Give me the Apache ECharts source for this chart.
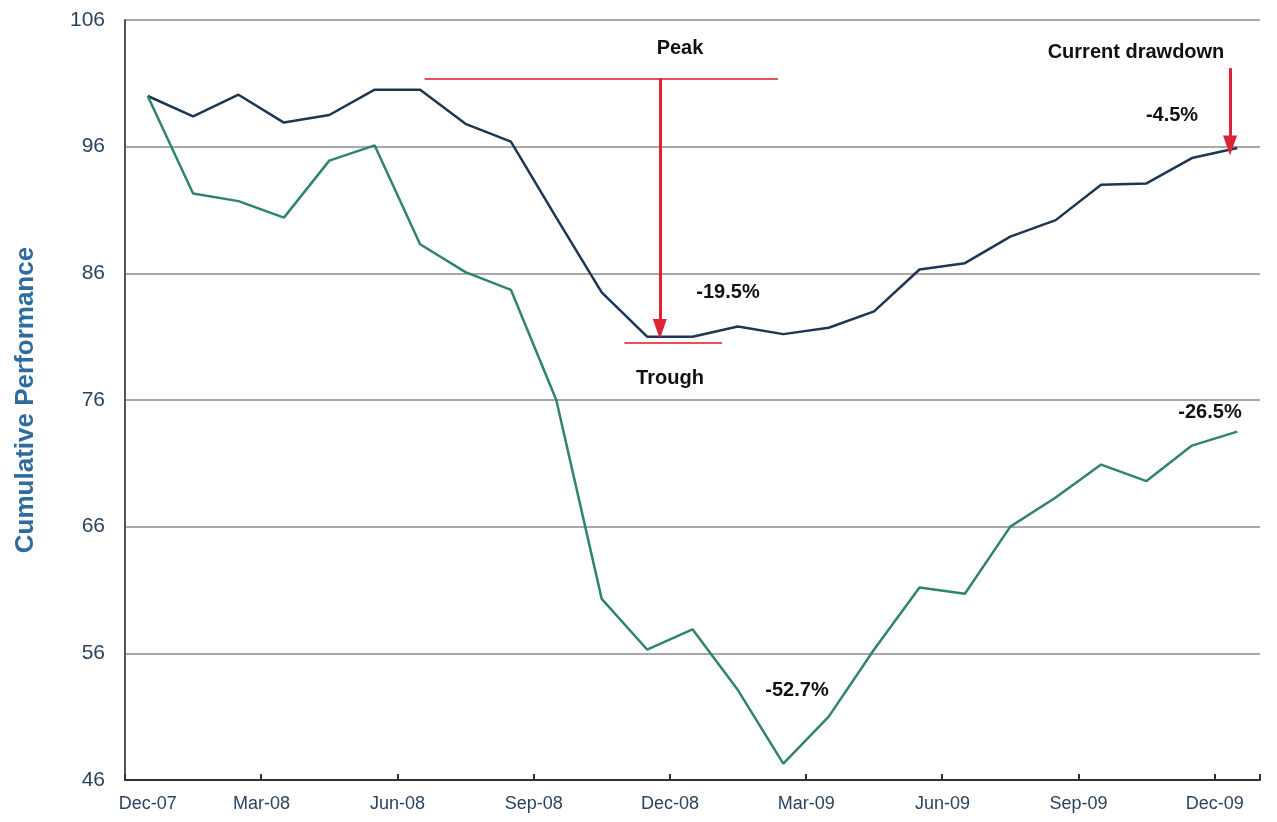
<!DOCTYPE html>
<html>
<head>
<meta charset="utf-8">
<script src="https://cdn.jsdelivr.net/npm/echarts@6/dist/echarts.min.js"></script>
<style>
html, body { margin: 0; padding: 0; background: #fff; }
#main { width: 1277px; height: 822px; }
</style>
</head>
<body>
<div id="main"></div>
<script>
// months, Dec-07 .. Dec-09
var months = ['Dec-07','Jan-08','Feb-08','Mar-08','Apr-08','May-08','Jun-08','Jul-08','Aug-08','Sep-08','Oct-08','Nov-08',
    'Dec-08','Jan-09','Feb-09','Mar-09','Apr-09','May-09','Jun-09','Jul-09','Aug-09','Sep-09','Oct-09','Nov-09','Dec-09'];
var fundValues = [100, 98.4, 100.1, 97.9, 98.5, 100.5, 100.5, 97.8, 96.4, 90.4, 84.5, 81.0,
    81.0, 81.8, 81.2, 81.7, 83.0, 86.3, 86.8, 88.9, 90.2, 93.0, 93.1, 95.1, 95.9];
var indexValues = [100, 92.3, 91.7, 90.4, 94.9, 96.1, 88.3, 86.1, 84.7, 76.0, 60.3, 56.3,
    57.9, 53.1, 47.3, 51.0, 56.3, 61.2, 60.7, 66.0, 68.3, 70.9, 69.6, 72.4, 73.5];
var yTicks = [46, 56, 66, 76, 86, 96, 106];

var myChart = echarts.init(document.getElementById('main'));
var red = '#dc2434';
var font = 'Liberation Sans';
var labelColor = '#2b4360';

function note(text, x, y) {
    return { type: 'text', x: x, y: y, style: { text: text, fontFamily: font, fontSize: 20, fontWeight: 'bold', fill: '#111', align: 'center', verticalAlign: 'middle' } };
}

var option = {
    backgroundColor: '#fff',
    animation: false,
    grid: { left: 125, right: 17, top: 20, bottom: 42 },
    xAxis: [{
        type: 'category',
        data: months,
        boundaryGap: true,
        axisLine: { onZero: false, lineStyle: { color: '#333', width: 2 } },
        axisTick: { show: true, interval: 2, length: 6, inside: true, lineStyle: { color: '#333', width: 2 } },
        axisLabel: {
            interval: 2,
            margin: 15,
            fontFamily: font,
            fontSize: 18,
            color: labelColor,
            formatter: function (v, i) { return i === 0 ? '{a|' + v + '}' : '{b|' + v + '}'; },
            rich: {
                a: { fontFamily: font, fontSize: 18, color: labelColor },
                b: { fontFamily: font, fontSize: 18, color: labelColor, padding: [0, 45, 0, 0] }
            }
        },
        splitLine: { show: false }
    }, {
        // hidden helper axis for the annotations
        type: 'value',
        min: -0.5,
        max: 24.5,
        show: false
    }],
    yAxis: {
        type: 'value',
        min: 46,
        max: 106,
        interval: 10,
        name: 'Cumulative Performance',
        nameLocation: 'middle',
        nameGap: 86,
        nameTextStyle: { fontFamily: font, fontSize: 26, fontWeight: 'bold', color: '#2f6c9e' },
        axisLine: { show: true, onZero: false, lineStyle: { color: '#555', width: 2 } },
        axisTick: { show: false },
        axisLabel: {
            margin: 20,
            fontFamily: font,
            fontSize: 21,
            color: labelColor,
            formatter: function (v) { return yTicks.indexOf(v) >= 0 ? v : ''; }
        },
        splitLine: { lineStyle: { color: '#a8a8a8', width: 2 } }
    },
    series: [{
        name: 'Fund',
        type: 'line',
        data: fundValues,
        symbol: 'none',
        lineStyle: { color: '#1d3752', width: 2.5 },
        z: 3
    }, {
        name: 'Index',
        type: 'line',
        data: indexValues,
        symbol: 'none',
        lineStyle: { color: '#2f8372', width: 2.5 },
        z: 3
    }, {
        name: 'annot',
        type: 'line',
        xAxisIndex: 1,
        data: [],
        markLine: {
            silent: true,
            symbol: ['none', 'none'],
            label: { show: false },
            data: [
                [{ coord: [6.1, 101.4], lineStyle: { color: '#e8505a', width: 2, type: 'solid' } }, { coord: [13.88, 101.4] }],
                [{ coord: [10.5, 80.5], lineStyle: { color: '#e8505a', width: 2, type: 'solid' } }, { coord: [12.65, 80.5] }],
                [{ coord: [11.28, 101.4], symbol: 'none', lineStyle: { color: red, width: 3, type: 'solid' } },
                 { coord: [11.28, 81.6], symbol: 'triangle', symbolSize: [14, 20], symbolRotate: 180 }],
                [{ coord: [23.84, 102.2], symbol: 'none', lineStyle: { color: red, width: 3, type: 'solid' } },
                 { coord: [23.84, 96.1], symbol: 'triangle', symbolSize: [14, 20], symbolRotate: 180 }]
            ]
        }
    }],
    graphic: [
        note('Peak', 680, 48),
        note('Trough', 670, 378),
        note('-19.5%', 728, 292),
        note('Current drawdown', 1136, 52),
        note('-4.5%', 1172, 115),
        note('-26.5%', 1210, 412),
        note('-52.7%', 797, 690)
    ]
};
myChart.setOption(option);
window.addEventListener("resize", function () {
    myChart.resize();
});
</script>
</body>
</html>
